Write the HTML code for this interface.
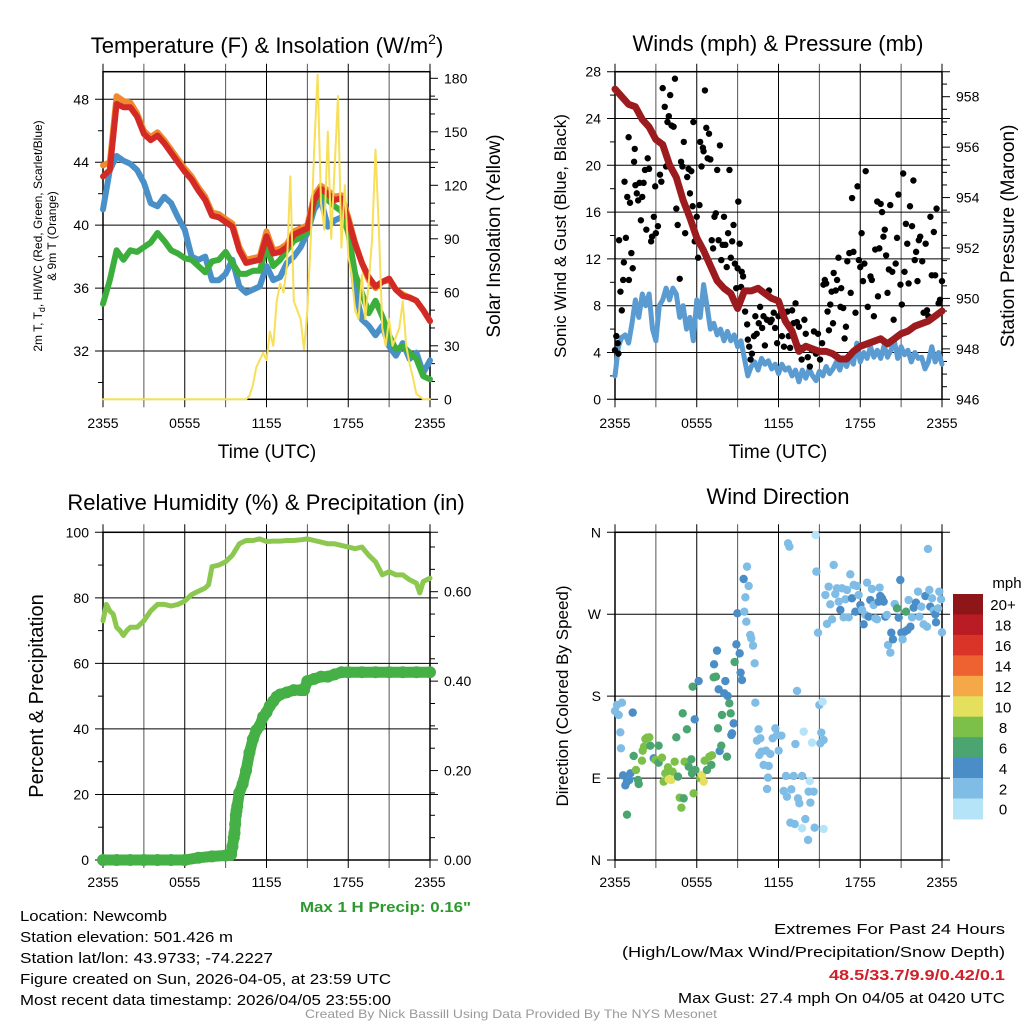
<!DOCTYPE html>
<html><head><meta charset="utf-8">
<style>
html,body{margin:0;padding:0;background:#fff;}
svg{display:block;font-family:"Liberation Sans",sans-serif;}
</style></head>
<body>
<svg id="chart" width="1024" height="1024" viewBox="0 0 1024 1024" xmlns="http://www.w3.org/2000/svg">
<rect width="1024" height="1024" fill="#fff"/>
<g id="p1"></g>
<g id="p2"></g>
<g id="p3"></g>
<g id="p4"></g>

<text x="267" y="53" font-size="22" text-anchor="middle">Temperature (F) &amp; Insolation (W/m<tspan dy="-9" font-size="14">2</tspan><tspan dy="9">)</tspan></text>
<text x="778" y="51" font-size="22" text-anchor="middle">Winds (mph) &amp; Pressure (mb)</text>
<text x="266" y="510" font-size="22" text-anchor="middle">Relative Humidity (%) &amp; Precipitation (in)</text>
<text x="778" y="504" font-size="22" text-anchor="middle">Wind Direction</text>

<text transform="translate(42,236) rotate(-90)" font-size="12" text-anchor="middle">2m T, T<tspan font-size="9" dy="3">d</tspan><tspan dy="-3">, HI/WC (Red, Green, Scarlet/Blue)</tspan></text>
<text transform="translate(56,236) rotate(-90)" font-size="12" text-anchor="middle">&amp; 9m T (Orange)</text>
<text transform="translate(500,236) rotate(-90)" font-size="19" text-anchor="middle">Solar Insolation (Yellow)</text>
<text transform="translate(566,236) rotate(-90)" font-size="17" text-anchor="middle">Sonic Wind &amp; Gust (Blue, Black)</text>
<text transform="translate(1014,236) rotate(-90)" font-size="19" text-anchor="middle">Station Pressure (Maroon)</text>
<text transform="translate(43,696) rotate(-90)" font-size="20" text-anchor="middle">Percent &amp; Precipitation</text>
<text transform="translate(568,696) rotate(-90)" font-size="17" text-anchor="middle">Direction (Colored By Speed)</text>
<text x="267" y="458" font-size="19" text-anchor="middle">Time (UTC)</text>
<text x="778" y="458" font-size="19" text-anchor="middle">Time (UTC)</text>

<text x="300" y="912" font-size="15" font-weight="bold" fill="#2e9a2e" textLength="171" lengthAdjust="spacingAndGlyphs">Max 1 H Precip: 0.16"</text>
<g font-size="15">
<text x="20" y="921" textLength="147" lengthAdjust="spacingAndGlyphs">Location: Newcomb</text>
<text x="20" y="942" textLength="213" lengthAdjust="spacingAndGlyphs">Station elevation: 501.426 m</text>
<text x="20" y="963" textLength="253" lengthAdjust="spacingAndGlyphs">Station lat/lon: 43.9733; -74.2227</text>
<text x="20" y="984" textLength="371" lengthAdjust="spacingAndGlyphs">Figure created on Sun, 2026-04-05, at 23:59 UTC</text>
<text x="20" y="1005" textLength="371" lengthAdjust="spacingAndGlyphs">Most recent data timestamp: 2026/04/05 23:55:00</text>
</g>
<g font-size="15">
<text x="774" y="934" textLength="231" lengthAdjust="spacingAndGlyphs">Extremes For Past 24 Hours</text>
<text x="622" y="957" textLength="383" lengthAdjust="spacingAndGlyphs">(High/Low/Max Wind/Precipitation/Snow Depth)</text>
<text x="829" y="980" textLength="176" lengthAdjust="spacingAndGlyphs" font-weight="bold" fill="#d0202a">48.5/33.7/9.9/0.42/0.1</text>
<text x="678" y="1003" textLength="327" lengthAdjust="spacingAndGlyphs">Max Gust: 27.4 mph On 04/05 at 0420 UTC</text>
</g>
<text x="305" y="1018" font-size="12" fill="#999" textLength="412" lengthAdjust="spacingAndGlyphs">Created By Nick Bassill Using Data Provided By The NYS Mesonet</text>
</svg>

<script>
// ---------- data ----------
const xTickLabels = ["2355","0555","1155","1755","2355"];
const hours = [0,0.5,1,1.5,2,2.5,3,3.5,4,4.5,5,5.5,6,6.5,7,7.5,8,8.5,9,9.5,10,10.5,11,11.5,12,12.5,13,13.5,14,14.5,15,15.5,16,16.5,17,17.5,18,18.5,19,19.5,20,20.5,21,21.5,22,22.5,23,23.5,24];
const temp2m = [43.1,43.5,47.7,47.5,47.5,46.9,45.8,45.4,45.7,45.2,44.6,44.0,43.4,42.9,42.2,41.6,40.6,40.5,40.2,39.9,38.4,37.6,37.7,37.8,39.3,38.2,38.3,38.6,39.4,39.6,39.8,41.6,42.3,42.0,41.6,41.7,40.3,38.8,37.6,36.7,36.1,36.4,36.6,35.9,35.5,35.4,35.2,34.6,33.9];
const temp9m = [43.8,44.0,48.2,47.9,47.8,47.1,46.0,45.6,45.9,45.4,44.8,44.2,43.6,43.1,42.4,41.8,40.8,40.7,40.4,40.1,38.6,37.8,37.9,38.0,39.6,38.4,38.5,38.8,39.6,39.8,40.0,41.9,42.5,42.2,41.8,41.9,40.5,38.9,37.6,36.5,36.0,36.4,36.5,35.9,35.6,35.4,35.2,34.6,33.9];
const windChill = [41.0,43.5,44.4,44.1,43.9,43.5,42.7,41.4,41.2,41.8,41.4,40.5,39.7,38.0,37.8,38.0,36.5,36.5,36.9,37.8,36.1,35.7,35.9,36.1,37.4,36.5,36.7,37.6,38.0,38.6,39.5,41.0,41.6,39.9,40.3,40.5,39.9,35.9,34.0,33.6,33.0,33.6,32.3,31.7,32.5,31.5,31.9,30.6,31.4];
const dewpoint = [35.0,36.5,38.4,37.8,38.4,38.3,38.6,38.9,39.5,39.0,38.4,38.2,37.9,37.8,37.4,37.0,37.7,37.8,38.3,37.6,36.9,36.9,37.1,37.1,38.6,37.4,37.8,38.4,39.0,39.2,39.6,41.4,42.0,41.6,41.2,40.9,39.5,36.9,35.7,34.4,35.2,34.2,33.0,32.1,32.3,31.9,31.5,30.4,30.2];
const solarHours = [0,10.5,10.75,11,11.25,11.5,11.75,12,12.25,12.5,12.75,13,13.25,13.5,13.75,14,14.25,14.5,14.75,15,15.25,15.5,15.75,16,16.25,16.5,16.75,17,17.25,17.5,17.75,18,18.25,18.5,18.75,19,19.25,19.5,19.75,20,20.25,20.5,20.75,21,21.25,21.5,21.75,22,22.25,22.5,22.75,23,23.5,24];
const solar = [0,0,2,8,18,22,26,22,38,30,55,65,60,75,125,55,50,45,28,50,90,140,182,110,95,150,90,130,170,85,120,80,70,50,45,70,45,65,90,140,95,40,30,45,30,35,40,55,30,20,12,3,0,0];

const windHours = [0,0.25,0.5,0.75,1,1.25,1.5,1.75,2,2.25,2.5,2.75,3,3.25,3.5,3.75,4,4.25,4.5,4.75,5,5.25,5.5,5.75,6,6.25,6.5,6.75,7,7.25,7.5,7.75,8,8.25,8.5,8.75,9,9.25,9.5,9.75,10,10.25,10.5,10.75,11,11.25,11.5,11.75,12,12.25,12.5,12.75,13,13.25,13.5,13.75,14,14.25,14.5,14.75,15,15.25,15.5,15.75,16,16.25,16.5,16.75,17,17.25,17.5,17.75,18,18.25,18.5,18.75,19,19.25,19.5,19.75,20,20.25,20.5,20.75,21,21.25,21.5,21.75,22,22.25,22.5,22.75,23,23.25,23.5,23.75,24];
const windSpeed = [2,4.5,5.3,5.5,4.8,6.5,8.5,7,9,8,9,6,5,8,8.5,9.5,8.5,9.5,9,7,8,6,7,5,8.5,7,9.8,8,6,6.5,5.5,6,5,5.8,5,5.5,4.5,5,3.5,2,2.8,3.2,2.5,3.5,3,3.3,2.6,3,2.2,3,2.5,2.7,2,2.5,1.5,2.5,1.8,2.6,2,1.6,2.4,2,2.8,2.2,2.6,3.2,2.5,3.4,2.8,3.6,3,4.8,3.2,4,3.5,4.5,3.6,4.2,3.5,4.6,3.6,4.2,5,3.5,4.5,3.8,4.2,3.2,4,3.5,3.6,2.6,3.2,4.5,3.2,4,3];
const pressure = [958.3,958.0,957.7,957.6,957.1,956.8,956.3,956.1,955.3,954.8,953.9,953.2,952.4,951.9,951.3,950.7,950.4,950.2,949.6,950.3,950.3,950.4,950.2,950.0,949.9,949.1,948.7,947.9,948.1,948.0,947.9,947.9,947.8,947.6,947.6,947.9,948.1,948.2,948.3,948.4,948.2,948.4,948.6,948.7,948.9,949.0,949.1,949.3,949.5];
const gustHours = [0,0.1,0.2,0.25,0.3,0.4,0.5,0.6,0.65,0.7,0.8,0.9,1.0,1.02,1.1,1.2,1.3,1.4,1.45,1.5,1.6,1.7,1.8,1.9,2.0,2.1,2.2,2.3,2.4,2.5,2.65,2.72,2.85,2.95,3.0,3.15,3.3,3.4,3.5,3.65,3.75,3.85,3.95,4.05,4.15,4.3,4.4,4.5,4.6,4.75,4.85,4.95,5.05,5.15,5.3,5.4,5.5,5.6,5.7,5.75,5.85,6.0,6.1,6.2,6.25,6.35,6.45,6.5,6.6,6.7,6.8,6.9,7.0,7.1,7.2,7.3,7.4,7.5,7.6,7.7,7.8,7.9,8.0,8.1,8.2,8.3,8.4,8.5,8.6,8.7,8.8,8.9,9.0,9.05,9.15,9.25,9.3,9.4,9.55,9.7,9.75,9.85,9.95,10.05,10.2,10.3,10.4,10.55,10.65,10.8,10.9,11.0,11.15,11.3,11.4,11.5,11.65,11.75,11.9,12.0,12.15,12.25,12.4,12.5,12.65,12.75,12.85,13.0,13.1,13.25,13.35,13.5,13.6,13.7,13.9,14.0,14.15,14.3,14.45,14.6,14.75,14.9,15.05,15.2,15.3,15.4,15.5,15.6,15.7,15.8,15.9,16.0,16.05,16.2,16.3,16.4,16.55,16.6,16.75,16.85,16.95,17.05,17.2,17.3,17.4,17.5,17.65,17.8,17.9,18.0,18.1,18.2,18.3,18.4,18.55,18.75,18.85,19.0,19.1,19.25,19.3,19.4,19.5,19.6,19.7,19.8,19.9,20.0,20.1,20.2,20.35,20.45,20.6,20.7,20.8,20.95,21.05,21.15,21.25,21.35,21.45,21.55,21.65,21.8,21.9,22.0,22.1,22.2,22.3,22.4,22.55,22.65,22.8,22.9,23.0,23.15,23.25,23.4,23.5,23.6,23.75,23.85,24.0];
const gusts = [4.2,5.4,4.8,3.9,13.6,9.2,7.6,10.2,11.7,18.6,13.8,17.3,22.4,10.2,16.8,12.5,11.2,20.3,21.4,18.3,17.6,17.0,18.5,15.3,17.3,18.5,19.6,14.5,20.6,19.7,13.5,13.9,15.6,18.2,14.2,14.8,19.2,18.6,26.6,25.0,19.9,23.7,24.2,26.0,23.4,23.3,27.4,16.3,14.9,10.3,20.3,19.9,22.0,14.2,19.0,19.7,17.6,19.5,16.5,23.7,13.5,15.6,12.1,16.6,22.0,19.9,21.5,21.2,26.4,23.2,20.6,22.7,20.5,13.6,12.9,15.6,15.9,19.6,13.6,21.7,11.9,13.2,15.6,13.2,11.3,14.2,19.6,12.1,13.5,14.9,11.6,9.5,11.2,16.9,13.3,9.6,10.9,10.5,7.5,6.4,5.1,4.5,3.4,3.9,5.4,7.1,5.6,6.5,7.9,6.1,7.1,4.6,6.8,9.3,6.6,6.8,7.4,6.1,4.8,7.1,7.9,5.4,4.5,6.8,7.5,5.4,4.4,7.6,6.5,8.2,6.6,6.2,4.4,3.4,6.8,5.6,3.6,2.8,4.2,5.8,3.9,5.6,3.4,4.8,9.8,10.2,9.9,7.5,5.9,8.1,9.2,6.5,10.8,9.3,10.2,12.1,7.9,9.5,7.8,5.2,6.2,11.8,12.5,9.1,17.2,12.6,7.4,18.2,11.9,11.3,14.2,10.1,11.6,19.5,7.9,10.5,10.2,7.1,12.8,16.9,8.8,12.9,16.7,16.0,13.9,14.5,12.3,9.1,11.1,16.6,10.9,6.8,11.6,13.8,17.5,9.8,8.1,19.3,10.9,15.0,13.3,9.9,16.5,14.8,18.7,11.9,12.6,10.1,13.6,13.9,11.8,7.4,13.3,7.6,7.1,15.6,10.6,14.3,10.6,16.3,8.2,8.5,10.1];

const rhHours = [0,0.25,0.5,0.75,1,1.25,1.5,1.75,2,2.5,3,3.5,4,4.5,5,5.5,6,6.5,7,7.5,7.75,8,8.5,9,9.5,10,10.5,11,11.5,12,12.5,13,13.5,14,14.5,15,15.5,16,16.5,17,17.5,18,18.5,19,19.5,20,20.5,21,21.5,22,22.5,23,23.25,23.5,24];
const rh = [73,78,76,75,71,70,68.5,70,71,71,73,76,78,78,77.5,78,79,81,82,83,84,89.5,90,91,93,96.5,97.5,97.5,98,97.2,97.3,97.3,97.5,97.5,97.7,98,97.5,97,96.5,96.5,96,95.5,95,95.5,93,91,87,88,87,87,85.5,84.5,81.5,85,86];
const precipHours = [0,1,2,3,4,5,6,7,8,9,9.4,9.5,9.6,9.65,9.7,9.75,9.8,9.85,10,10.25,10.5,10.75,11,11.25,11.5,11.75,12,12.25,12.5,12.75,13,13.5,14,14.5,14.75,15,15.5,16,16.5,17,17.5,18,19,20,21,22,23,24];
const precip = [0,0,0,0,0,0,0,0.005,0.008,0.01,0.012,0.03,0.05,0.06,0.08,0.10,0.11,0.12,0.15,0.17,0.20,0.24,0.27,0.29,0.30,0.32,0.33,0.345,0.355,0.365,0.37,0.375,0.38,0.38,0.38,0.40,0.405,0.41,0.41,0.415,0.42,0.42,0.42,0.42,0.42,0.42,0.42,0.42];

const dirHours = [0,0.15,0.27,0.51,1.30,0.39,0.44,0.59,0.76,0.88,1.05,1.13,0.88,1.37,1.54,1.69,1.74,1.98,2.03,2.13,2.23,2.35,2.52,2.59,3.20,2.84,2.96,3.20,3.45,3.57,3.69,3.89,3.94,4.13,4.23,4.38,4.50,4.62,4.75,4.87,4.97,5.04,5.11,5.28,5.41,5.60,5.65,5.77,5.90,5.85,6.14,5.70,6.26,6.39,6.51,6.58,6.75,6.92,7.07,7.12,7.24,7.41,7.56,7.68,7.80,7.27,7.49,7.61,7.85,8.10,8.22,8.02,8.27,8.39,8.49,8.54,8.71,8.59,8.78,8.91,9.15,9.22,9.32,8.98,9.44,9.69,9.81,9.57,9.49,9.64,9.93,10.0,10.13,10.25,10.30,10.54,10.67,10.42,10.59,10.74,10.91,11.08,11.28,11.40,11.23,11.16,11.57,11.77,11.89,12.01,12.21,12.55,12.70,12.80,12.38,12.62,12.94,13.11,13.24,13.36,13.43,13.53,13.73,13.85,13.97,14.17,14.34,14.46,14.29,14.21,14.58,14.65,13.73,15.31,13.19,12.87,14.73,14.78,14.90,15.0,15.24,15.14,15.31,15.07,15.44,15.56,15.68,15.80,15.93,16.05,16.17,16.29,16.42,16.54,16.66,16.78,16.91,17.03,17.15,17.27,17.39,17.52,17.64,17.76,17.88,18.01,18.13,18.25,18.37,18.50,18.62,18.74,18.86,18.98,19.11,19.23,19.35,19.42,19.47,19.60,19.72,19.84,19.96,20.04,20.21,20.28,20.40,20.53,20.70,20.82,20.94,21.02,21.11,21.26,21.36,21.46,21.55,21.68,21.80,21.92,22.09,22.24,22.34,22.48,22.65,22.78,22.90,22.97,23.07,23.14,23.27,23.39,23.51,23.56,23.71,23.80,23.93,24.0];
const dirDeg = [163.7,170.3,159.3,172.8,161.9,140.3,122.7,93.0,82.0,86.1,87.9,95.2,49.8,114.3,98.9,87.9,83.5,109.1,120.1,124.5,132.9,134.4,134.8,125.6,125.6,111.7,109.9,106.9,112.4,86.1,95.2,101.8,88.6,87.9,97.0,108.0,134.8,91.6,68.5,57.5,161.1,67.7,108.0,143.6,102.5,110.6,95.2,73.2,98.9,154.5,196.6,190.4,89.7,93.4,86.1,109.1,98.9,113.5,104.4,115.0,200.7,201.4,144.6,119.7,125.6,215.0,230.0,187.5,159.3,196.6,113.5,183.1,180.2,172.1,161.1,137.3,150.1,139.2,217.5,236.9,227.0,205.8,197.7,271.0,308.7,322.3,301.0,288.6,272.8,261.8,247.2,243.5,235.5,216.1,172.8,143.6,133.7,131.1,115.4,119.0,104.4,120.1,103.3,116.5,90.5,78.0,133.7,144.6,137.3,120.1,136.6,92.3,347.9,344.2,75.8,69.6,77.6,92.3,127.4,185.7,67.7,62.3,92.3,141.0,45.0,22.0,63.0,128.9,86.8,75.1,75.1,35.5,34.8,34.1,39.5,41.0,357.0,316.8,249.7,170.3,173.9,139.9,131.8,128.2,291.1,259.3,300.3,280.9,264.4,324.1,292.2,298.5,283.8,274.7,298.5,266.6,286.4,296.6,266.6,313.8,287.5,302.1,272.8,301.0,291.1,280.1,274.7,258.9,269.2,304.7,267.3,285.6,297.7,280.1,265.5,264.4,283.8,299.2,290.0,287.5,283.8,267.3,269.2,236.2,227.8,249.7,242.4,281.2,276.5,266.2,307.6,249.7,242.4,250.8,272.8,252.7,285.6,256.3,266.6,277.2,282.7,294.8,267.3,278.3,258.9,290.0,256.3,341.7,296.6,278.3,287.5,273.9,269.9,261.1,276.5,294.8,286.4,250.1];
const dirSpeed = [2,2,2,2,4,2,2,4,4,4,4,4,6,6,8,6,6,8,8,8,8,8,8,6,6,4,8,6,8,8,8,8,10,10,8,8,6,6,8,8,6,6,8,6,6,6,6,8,6,4,4,6,8,10,10,8,6,8,6,8,6,6,6,4,6,4,4,4,6,4,6,4,4,6,6,4,4,4,6,4,4,4,4,4,4,2,2,2,2,2,2,2,2,2,2,2,2,2,2,2,2,2,2,2,2,2,2,2,2,2,2,2,2,2,2,2,2,2,2,2,2,2,2,0,2,2,2,0,0,2,2,2,0,0,2,2,0,2,2,2,0,2,2,2,2,2,2,2,2,2,2,2,2,4,2,2,2,2,2,2,4,2,4,2,2,4,2,4,2,2,4,4,2,2,2,2,4,2,4,4,4,4,2,2,2,4,4,2,6,4,4,4,2,4,6,4,2,4,2,4,4,2,2,2,2,4,2,2,2,4,2,2,4,4,2,2,2,2,2,2,2,2];
const speedLabels = ["20+","18","16","14","12","10","8","6","4","2","0"];
const speedColors = ["#8e1518","#b91c24","#da3328","#ee6130","#f5a847","#e4df5c","#7cc04a","#4aa570","#4a8dc7","#80bde6","#b5e3f7"];

// ---------- helpers ----------
const NS = "http://www.w3.org/2000/svg";
function mk(parent, tag, attrs){const e=document.createElementNS(NS,tag);for(const k in attrs)e.setAttribute(k,attrs[k]);parent.appendChild(e);return e;}
function lin(d0,d1,r0,r1){return v=>r0+(v-d0)*(r1-r0)/(d1-d0);}
function pathD(xs,ys,fx,fy){return xs.map((h,i)=>(i?"L":"M")+fx(h).toFixed(1)+","+fy(ys[i]).toFixed(1)).join("");}

function frame(g, L, R, T, B, hGridYs, xlabelY, withLabels){
  const fx = lin(0,24,L,R);
  for(let h=0;h<=24;h+=3){
    const ln = mk(g,"line",{x1:fx(h),x2:fx(h),y1:T-8,y2:B+8,stroke:(h%6===0?"#000":"#555"),"stroke-width":1});
    
    
  }
  hGridYs.forEach(y=>{
    const ln = mk(g,"line",{x1:L-8,x2:R+8,y1:y,y2:y,stroke:"#000","stroke-width":1});
    
    
  });
  const box = mk(g,"rect",{x:L,y:T,width:R-L,height:B-T,fill:"none",stroke:"#000","stroke-width":1.5});
  
  
  if(withLabels){
    xTickLabels.forEach((t,i)=>{
      const tx = mk(g,"text",{x:fx(i*6),y:xlabelY,"font-size":14,"text-anchor":"middle"});
      tx.textContent=t;
      
      
    });
  }
  return fx;
}
function leftTicks(g, L, vals, fy, fmt, minors){
  vals.forEach(v=>{
    const t = mk(g,"text",{x:L-14,y:fy(v)+5,"font-size":14,"text-anchor":"end"});
    t.textContent=fmt(v);
    
    
  });
  (minors||[]).forEach(v=>{
    const m = mk(g,"line",{x1:L-5,x2:L,y1:fy(v),y2:fy(v),stroke:"#000"});
    
    
  });
}
function rightTicks(g, R, vals, fy, fmt, minors){
  vals.forEach(v=>{
    const l = mk(g,"line",{x1:R,x2:R+8,y1:fy(v),y2:fy(v),stroke:"#000"});
    
    
    const t = mk(g,"text",{x:R+14,y:fy(v)+5,"font-size":14});
    t.textContent=fmt(v);
    
    
  });
  (minors||[]).forEach(v=>{
    const m = mk(g,"line",{x1:R,x2:R+5,y1:fy(v),y2:fy(v),stroke:"#000"});
    
    
  });
}
function line(g,xs,ys,fx,fy,color,w,name){
  const p = mk(g,"path",{d:pathD(xs,ys,fx,fy),fill:"none",stroke:color,"stroke-width":w,"stroke-linejoin":"round","stroke-linecap":"round"});
  
  
  return p;
}

// ---------- panel 1 ----------
(function(){
  const g=document.getElementById("p1");
  const L=103,R=430,T=71.7,B=399.3;
  const fyT = lin(32,48,351,99.3);
  const fyS = lin(0,180,399.3,78.3);
  const fx = frame(g,L,R,T,B,[32,36,40,44,48].map(fyT),428,true);
  leftTicks(g,L,[32,36,40,44,48],fyT,v=>v,[30,34,38,42,46]);
  rightTicks(g,R,[0,30,60,90,120,150,180],fyS,v=>v,[10,20,40,50,70,80,100,110,130,140,160,170]);
  line(g,hours,temp9m,fx,fyT,"#f08a30",6,"9m-temperature-line");
  line(g,hours,windChill,fx,fyT,"#4a90c8",6,"wind-chill-line");
  line(g,hours,dewpoint,fx,fyT,"#3cae3c",6,"dewpoint-line");
  line(g,hours,temp2m,fx,fyT,"#d42a25",6,"2m-temperature-line");
  line(g,solarHours,solar,fx,fyS,"#f7df5a",2,"solar-insolation-line");
})();

// ---------- panel 2 ----------
(function(){
  const g=document.getElementById("p2");
  const L=615,R=942,T=71.7,B=399.3;
  const fyW = lin(0,28,399.3,71.7);
  const fyP = lin(946,958,399.3,96.7);
  const fx = frame(g,L,R,T,B,[0,4,8,12,16,20,24,28].map(fyW),428,true);
  leftTicks(g,L,[0,4,8,12,16,20,24,28],fyW,v=>v,[2,6,10,14,18,22,26]);
  rightTicks(g,R,[946,948,950,952,954,956,958],fyP,v=>v,[946.5,947,947.5,948.5,949,949.5,950.5,951,951.5,952.5,953,953.5,954.5,955,955.5,956.5,957,957.5,958.5]);
  line(g,windHours,windSpeed,fx,fyW,"#5a9bd2",5,"sonic-wind-line");
  gustHours.forEach((h,i)=>{
    const c = mk(g,"circle",{cx:fx(h),cy:fyW(gusts[i]),r:3.2,fill:"#000"});
    
    
  });
  line(g,hours,pressure,fx,fyP,"#9b1b1e",7,"pressure-line");
})();

// ---------- panel 3 ----------
(function(){
  const g=document.getElementById("p3");
  const L=103,R=430,T=532.3,B=860;
  const fyP = lin(0,100,860,532.3);
  const fyR = lin(0,0.6,860,591.7);
  const fx = frame(g,L,R,T,B,[0,20,40,60,80,100].map(fyP),887,true);
  leftTicks(g,L,[0,20,40,60,80,100],fyP,v=>v,[10,30,50,70,90]);
  rightTicks(g,R,[0,0.2,0.4,0.6],fyR,v=>v.toFixed(2),[0.05,0.1,0.15,0.25,0.3,0.35,0.45,0.5,0.55,0.65,0.7]);
  line(g,rhHours,rh,fx,fyP,"#8cc850",5,"relative-humidity-line");
  line(g,precipHours,precip,fx,fyR,"#45b045",11,"precipitation-line");
  precipHours.forEach((h,i)=>{
    const c = mk(g,"circle",{cx:fx(h),cy:fyR(precip[i]),r:6,fill:"#45b045"});
    
    
  });
})();

// ---------- panel 4 ----------
(function(){
  const g=document.getElementById("p4");
  const L=615,R=942,T=532.3,B=860;
  const fyD = lin(0,360,860,532.3);
  const dirTicks=[0,90,180,270,360], dirNames=["N","E","S","W","N"];
  const fx = frame(g,L,R,T,B,dirTicks.map(fyD),887,true);
  dirTicks.forEach((d,i)=>{
    const t = mk(g,"text",{x:L-14,y:fyD(d)+5,"font-size":14,"text-anchor":"end"});
    t.textContent=dirNames[i];
    
    
  });
  dirHours.forEach((h,i)=>{
    const s = (dirSpeed[i]===undefined) ? 2 : dirSpeed[i];
    const idx = Math.max(0,Math.min(10,10-Math.floor(s/2)));
    const c = mk(g,"circle",{cx:fx(h),cy:fyD(dirDeg[i]),r:4.2,fill:speedColors[idx]});
    
    
  });
  const cb = mk(g,"g",{});
  
  
  const top=594, bh=20.45;
  speedColors.forEach((c,i)=>{
    const r = mk(cb,"rect",{x:953,y:top+i*bh,width:30,height:bh+0.5,fill:c});
    
    
    const t = mk(cb,"text",{x:1003,y:top+i*bh+bh/2+6,"font-size":15,"text-anchor":"middle"});
    t.textContent=speedLabels[i];
    
    
  });
  const u = mk(cb,"text",{x:1007,y:588,"font-size":15,"text-anchor":"middle"});
  u.textContent="mph";
  
  
})();
</script>
</body></html>
